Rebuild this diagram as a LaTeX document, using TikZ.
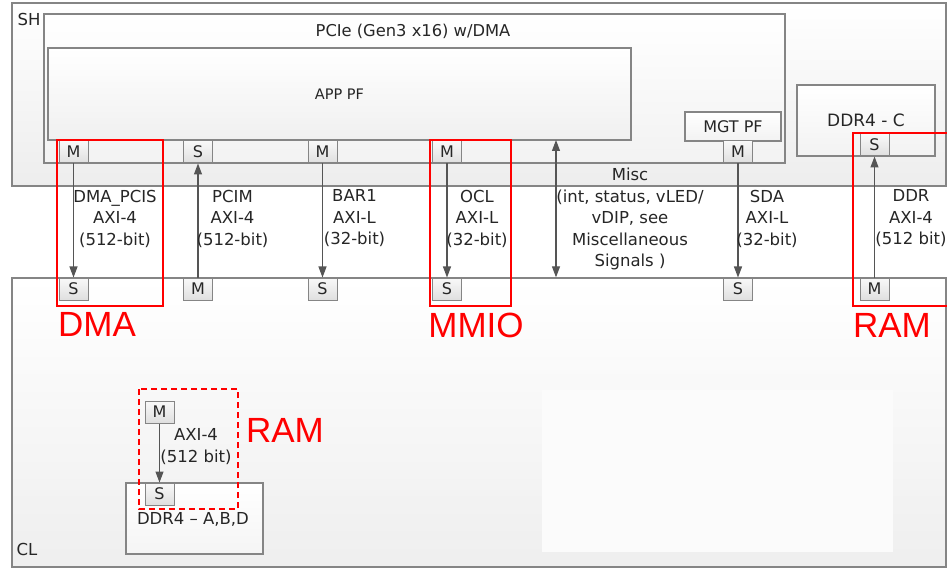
\documentclass[tikz,border=0pt]{standalone}
\usepackage{fontspec}
\setmainfont{DejaVu Sans}
\newfontfamily\redfont{Liberation Sans}
\usetikzlibrary{arrows.meta}
\definecolor{edge}{HTML}{858585}
\definecolor{txt}{HTML}{262626}
\definecolor{arr}{HTML}{555555}
\begin{document}
\begin{tikzpicture}[x=1pt,y=-1pt,
  blk/.style={draw=edge, line width=1.3pt, inner sep=0pt, top color=white, bottom color=#1, text=txt,
    font=\fontsize{16}{16}\selectfont},
  blk/.default={gray!12},
  port/.style={draw=edge, line width=1pt, inner sep=0pt, top color=gray!5, bottom color=gray!25,
    minimum width=29pt, minimum height=22pt, text=txt, font=\fontsize{16}{16}\selectfont},
  lbl/.style={align=center, inner sep=0pt, text=txt, font=\fontsize{16.5}{21.5}\selectfont},
  sig/.style={draw=arr, line width=1.1pt, -{Triangle[length=11pt,width=8pt]}},
  redbox/.style={draw=red, line width=1.5pt},
  redlbl/.style={text=red, inner sep=0pt, font=\redfont\fontsize{35}{35}\selectfont}]
\useasboundingbox (0,0) rectangle (947,569);
\fill[white] (0,0) rectangle (947,569);
% SH
\node[blk={gray!14}, minimum width=934pt, minimum height=183pt] (sh) at (479,94.5) {};
\node[lbl] (shl) at (29,19) {SH};
\node[blk={gray!10}, minimum width=741pt, minimum height=149pt] (pcie) at (414.5,88.5) {};
\node[lbl, font=\fontsize{16.3}{16}\selectfont] (pciel) at (413,31) {PCIe (Gen3 x16) w/DMA};
\node[blk={gray!12}, minimum width=583pt, minimum height=92pt, font=\fontsize{14.5}{14}\selectfont] (app) at (339.5,94) {APP PF};
\node[blk={gray!10}, minimum width=96pt, minimum height=29pt] (mgt) at (733,126.5) {MGT PF};
\node[blk={gray!10}, minimum width=138pt, minimum height=71pt, font=\fontsize{17}{17}\selectfont] (ddrc) at (866,120.5) {DDR4 - C};
% top ports
\node[port] (tm1) at (73.5,152) {M};
\node[port] (ts2) at (198,152) {S};
\node[port] (tm3) at (322.5,152) {M};
\node[port] (tm4) at (447,152) {M};
\node[port] (tm5) at (738,152) {M};
\node[port] (ts6) at (874.5,145) {S};
% CL
\node[blk={gray!13}, minimum width=934pt, minimum height=289pt] (cl) at (479,422.5) {};
\fill[white!97!gray] (542,390) rectangle (893,552);
\node[lbl] (cll) at (27,549) {CL};
% bottom ports
\node[port] (bs1) at (73.5,289) {S};
\node[port] (bm2) at (198,289) {M};
\node[port] (bs3) at (322.5,289) {S};
\node[port] (bs4) at (447,289) {S};
\node[port] (bs5) at (738,289) {S};
\node[port] (bm6) at (874.5,289) {M};
% connectors
\draw[sig] (tm1.south) -- (bs1.north);
\draw[sig] (bm2.north) -- (ts2.south);
\draw[sig] (tm3.south) -- (bs3.north);
\draw[sig] (tm4.south) -- (bs4.north);
\draw[sig] (tm5.south) -- (bs5.north);
\draw[sig] (bm6.north) -- (ts6.south);
\coordinate (mtop) at (556,140);
\draw[sig, {Triangle[length=11pt,width=8pt]}-{Triangle[length=11pt,width=8pt]}] (mtop) -- (mtop |- cl.north);
% labels
\node[lbl] (l1) at (115,218.5) {DMA\_PCIS\\AXI-4\\(512-bit)};
\node[lbl] (l2) at (232.5,218.5) {PCIM\\AXI-4\\(512-bit)};
\node[lbl] (l3) at (354.5,218.5) {BAR1\\AXI-L\\(32-bit)};
\node[lbl] (l4) at (477,218.5) {OCL\\AXI-L\\(32-bit)};
\node[lbl] (l5) at (630,219) {Misc\\(int, status, vLED/\\vDIP, see\\Miscellaneous\\Signals )};
\node[lbl] (l6) at (767,218.5) {SDA\\AXI-L\\(32-bit)};
\node[lbl] (l7) at (911,218.5) {DDR\\AXI-4\\(512 bit)};
% lower DDR
\node[blk={gray!8}, minimum width=137pt, minimum height=71pt] (ddrabd) at (194.5,518.5) {};
\node[lbl] (ddrabdl) at (193,519) {DDR4 -- A,B,D};
\node[port] (lm) at (159.5,412) {M};
\node[port] (ls) at (159.5,494) {S};
\draw[sig] (lm.south) -- (ls.north);
\node[lbl] (l8) at (196,446.5) {AXI-4\\(512 bit)};
% red highlights
\draw[redbox] (57,140) rectangle (163,306);
\draw[redbox] (430,140) rectangle (511,306);
\draw[redbox] (853,133) rectangle (952,306);
\draw[redbox, dash pattern=on 6pt off 4pt] (139,389) rectangle (238,509);
\node[redlbl] (r1) at (97,324) {DMA};
\node[redlbl] (r2) at (476,325) {MMIO};
\node[redlbl] (r3) at (892,325) {RAM};
\node[redlbl] (r4) at (285,430) {RAM};
\end{tikzpicture}
\end{document}
